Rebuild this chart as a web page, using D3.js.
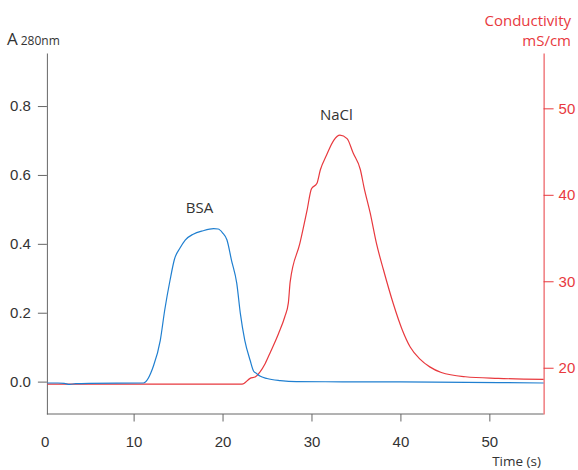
<!DOCTYPE html>
<html lang="en">
<head>
<meta charset="UTF-8">
<title>BSA / NaCl</title>
<script src="https://cdnjs.cloudflare.com/ajax/libs/d3/7.8.5/d3.min.js"></script>
<style>
  body { margin: 0; background: #fff; }
  svg { display: block; font-family: 'Open Sans', sans-serif; }
  .tick text { font-size: 15px; }
</style>
</head>
<body>
<div id="chart"></div>
<script>
// A280 trace (time s, absorbance)
const absorbance = [
  [0.3, -0.004], [1.5, -0.004], [2.2, -0.005], [2.8, -0.008], [3.5, -0.006],
  [5, -0.005], [11.1, -0.004], [12.2, 0.043], [13.0, 0.12], [13.5, 0.208],
  [14.1, 0.295], [14.6, 0.356], [15.2, 0.387], [15.8, 0.411], [16.7, 0.428],
  [17.8, 0.438], [19.0, 0.444], [19.5, 0.443], [20.0, 0.432], [20.5, 0.411],
  [21.0, 0.353], [21.6, 0.285], [22.0, 0.198], [22.5, 0.12], [23.1, 0.062],
  [23.5, 0.03], [23.8, 0.024], [24.2, 0.016], [25.0, 0.009], [26.5, 0.003],
  [28.3, 0.0], [40, -0.001], [56.1, -0.004]
];

// conductivity trace (time s, mS/cm)
const conductivity = [
  [0.3, 18.1], [22.2, 18.1], [23.1, 18.77], [23.7, 18.96], [24.2, 19.5],
  [24.8, 20.5], [25.4, 21.85], [26.3, 23.97], [27.0, 25.9], [27.4, 27.5],
  [27.6, 29.9], [28.7, 34.4], [29.5, 38.2], [30.0, 40.7], [30.6, 41.3],
  [31.0, 42.9], [31.7, 44.6], [32.5, 46.3], [33.2, 46.9], [34.0, 46.5],
  [34.7, 44.8], [35.5, 42.9], [35.9, 40.9], [36.6, 37.9], [37.3, 34.4],
  [38.1, 31.3], [39.2, 27.4], [40.2, 24.4], [41.1, 22.4], [42.2, 21.0],
  [43.3, 20.1], [44.6, 19.45], [47.3, 18.96], [51, 18.77], [56.1, 18.65]
];

const xTicks = [0, 10, 20, 30, 40, 50];
const yTicks = [0.0, 0.2, 0.4, 0.6, 0.8];
const condTicks = [20, 30, 40, 50];
const peakLabels = [
  { text: "BSA", t: 17.4, v: 0.49, series: "abs" },
  { text: "NaCl", t: 32.8, c: 48.7, series: "cond" }
];

const width = 578, height = 470;
const blue = "#1f7fd0", red = "#e8393e";

const svg = d3.select("#chart").append("svg")
  .attr("width", width)
  .attr("height", height);

const x = d3.scaleLinear().domain([0.25, 56.1]).range([46.9, 543.6]);
const y = d3.scaleLinear().domain([-0.094, 0.954]).range([414, 53]);
const yR = d3.scaleLinear().domain([14.65, 56.4]).range([414, 53]);

// bottom axis
const gx = svg.append("g")
  .attr("transform", "translate(0,414)")
  .call(d3.axisBottom(x).tickValues(xTicks).tickSize(7.5).tickPadding(15).tickSizeOuter(0));
gx.select(".domain").attr("stroke", "#666").attr("d", `M${x.range()[0]},0H${x.range()[1]}`);
gx.selectAll(".tick line").attr("stroke", "#666");
gx.selectAll(".tick").filter(d => d === 0).select("line").remove();
gx.selectAll(".tick text").attr("fill", "#333");

// left axis
const gy = svg.append("g")
  .attr("transform", "translate(46.9,0)")
  .call(d3.axisLeft(y).tickValues(yTicks).tickFormat(d3.format(".1f")).tickSize(9).tickPadding(7).tickSizeOuter(0));
gy.select(".domain").attr("stroke", "#666");
gy.selectAll(".tick line").attr("stroke", "#666");
gy.selectAll(".tick text").attr("fill", "#333");

// right axis
const gr = svg.append("g")
  .attr("transform", "translate(543.6,0)")
  .call(d3.axisRight(yR).tickValues(condTicks).tickSize(10).tickPadding(5).tickSizeOuter(0));
gr.select(".domain").attr("stroke", red);
gr.selectAll(".tick line").attr("stroke", red);
gr.selectAll(".tick text").attr("fill", red);

// traces
const lineAbs = d3.line().x(d => x(d[0])).y(d => y(d[1])).curve(d3.curveMonotoneX);
const lineCond = d3.line().x(d => x(d[0])).y(d => yR(d[1])).curve(d3.curveMonotoneX);

svg.append("path").datum(conductivity)
  .attr("d", lineCond).attr("fill", "none").attr("stroke", red).attr("stroke-width", 1.2);
svg.append("path").datum(absorbance)
  .attr("d", lineAbs).attr("fill", "none").attr("stroke", blue).attr("stroke-width", 1.2);

// peak labels
svg.selectAll(".peak").data(peakLabels).join("text")
  .attr("class", "peak")
  .attr("x", d => x(d.t))
  .attr("y", d => d.series === "abs" ? y(d.v) : yR(d.c))
  .attr("text-anchor", "middle")
  .attr("font-size", 15)
  .attr("fill", "#333")
  .text(d => d.text);

// axis titles
const aTitle = svg.append("text").attr("x", 7).attr("y", 45).attr("fill", "#333");
aTitle.append("tspan").attr("font-size", 17).text("A");
aTitle.append("tspan").attr("font-size", 12).attr("dx", 3).text("280nm");

svg.append("text").attr("x", 541).attr("y", 466).attr("text-anchor", "end")
  .attr("font-size", 13.5).attr("fill", "#333").text("Time (s)");

svg.append("text").attr("x", 571).attr("y", 26).attr("text-anchor", "end")
  .attr("font-size", 15).attr("fill", red).text("Conductivity");
svg.append("text").attr("x", 571).attr("y", 46).attr("text-anchor", "end")
  .attr("font-size", 15).attr("fill", red).text("mS/cm");
</script>
</body>
</html>
